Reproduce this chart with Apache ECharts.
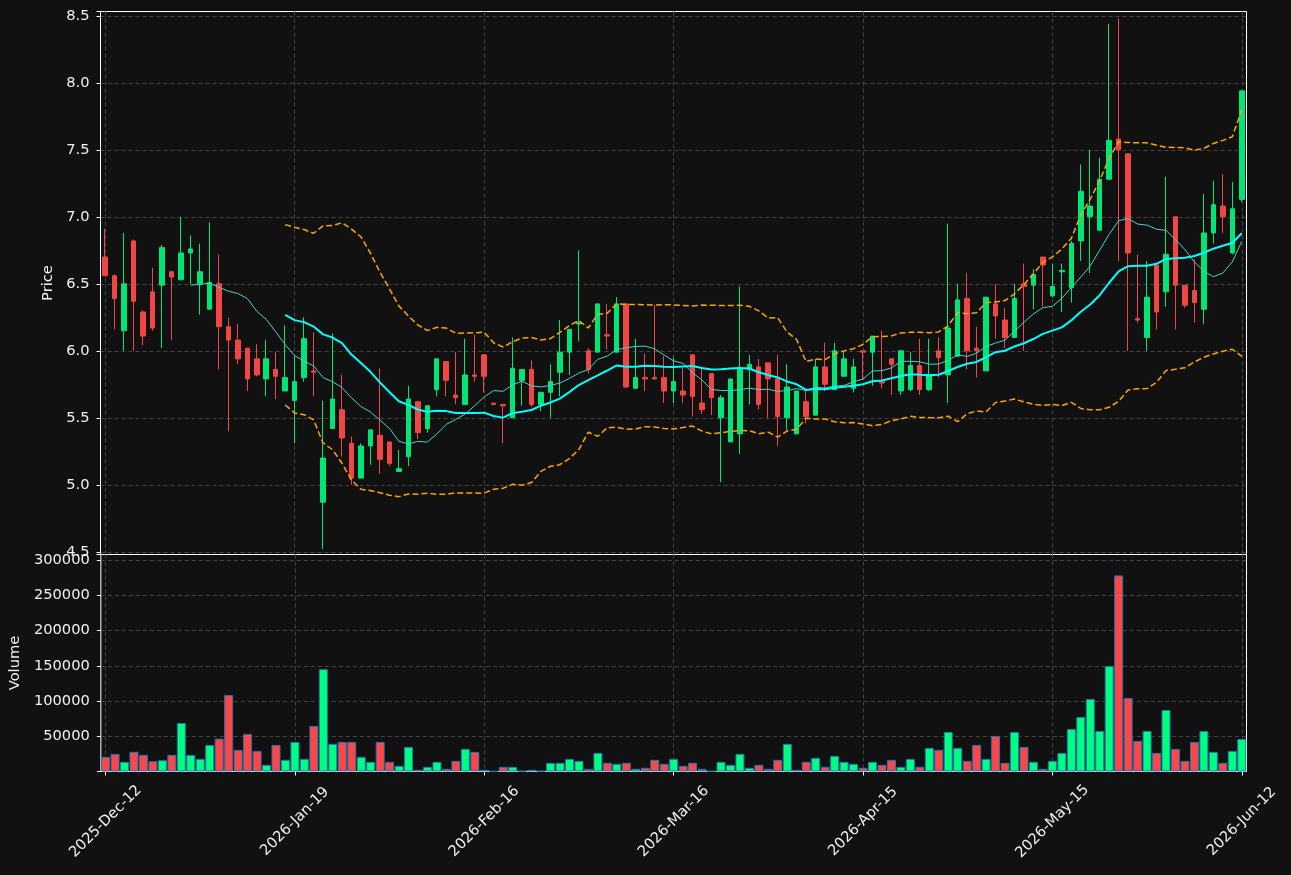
<!DOCTYPE html>
<html style="height: 100%">
<head>
    <meta charset="utf-8">
    <title>Price and Volume</title>
    <script src="https://cdn.jsdelivr.net/npm/echarts@6/dist/echarts.min.js"></script>
</head>
<body style="height: 100%; margin: 0; background: #111111">
<div id="main" style="width: 1291px; height: 875px"></div>

<script type="text/javascript">

    // dates shown on the axis, one every 20 sessions
    var tickDates = ['2025-12-12', '2026-01-19', '2026-02-16', '2026-03-16', '2026-04-15', '2026-05-15', '2026-06-12'];

    var opens = [6.70, 6.56, 6.15, 6.82, 6.29, 6.44, 6.49, 6.59, 6.53, 6.73,
        6.50, 6.31, 6.50, 6.18, 6.08, 6.02, 5.94, 5.79, 5.86, 5.70,
        5.63, 5.80, 5.85, 4.87, 5.42, 5.56, 5.31, 5.05, 5.29, 5.37,
        5.32, 5.10, 5.21, 5.62, 5.42, 5.71, 5.92, 5.67, 5.60, 5.82,
        5.97, 5.61, 5.60, 5.50, 5.78, 5.86, 5.60, 5.69, 5.84, 5.99,
        6.20, 6.00, 5.99, 6.12, 5.99, 6.35, 5.72, 5.80, 5.80, 5.80,
        5.70, 5.70, 5.97, 5.61, 5.83, 5.50, 5.32, 5.38, 5.86, 5.88,
        5.91, 5.79, 5.50, 5.38, 5.62, 5.52, 5.88, 5.71, 5.81, 5.72,
        6.00, 5.99, 5.77, 5.94, 5.70, 5.71, 5.89, 5.71, 6.00, 5.82,
        5.96, 6.39, 6.02, 5.85, 6.35, 6.23, 6.10, 6.50, 6.49, 6.70,
        6.41, 6.59, 6.47, 6.82, 7.00, 6.90, 7.28, 7.58, 7.47, 6.24,
        6.10, 6.64, 6.44, 7.00, 6.49, 6.45, 6.31, 6.88, 7.08, 6.73,
        7.13];

    var closes = [6.56, 6.39, 6.50, 6.37, 6.11, 6.17, 6.77, 6.55, 6.73, 6.76,
        6.59, 6.51, 6.18, 6.08, 5.94, 5.79, 5.82, 5.94, 5.81, 5.80,
        5.77, 6.09, 5.84, 5.20, 5.64, 5.35, 5.05, 5.29, 5.41, 5.19,
        5.16, 5.12, 5.64, 5.39, 5.59, 5.94, 5.78, 5.65, 5.82, 5.81,
        5.81, 5.60, 5.59, 5.87, 5.86, 5.60, 5.69, 5.77, 5.99, 6.16,
        6.21, 5.86, 6.35, 6.11, 6.35, 5.73, 5.80, 5.79, 5.79, 5.70,
        5.77, 5.67, 5.66, 5.56, 5.65, 5.65, 5.79, 5.86, 5.90, 5.60,
        5.79, 5.51, 5.73, 5.70, 5.51, 5.88, 5.75, 6.00, 5.94, 5.88,
        5.99, 6.11, 5.76, 5.90, 6.00, 5.89, 5.71, 5.82, 5.95, 6.17,
        6.38, 6.00, 6.00, 6.40, 6.26, 6.10, 6.39, 6.48, 6.57, 6.64,
        6.48, 6.60, 6.80, 7.19, 7.08, 7.28, 7.57, 7.50, 6.73, 6.23,
        6.40, 6.29, 6.72, 6.49, 6.34, 6.36, 6.88, 7.09, 7.00, 7.06,
        7.94];

    var lows = [6.56, 6.16, 6.00, 6.00, 6.04, 6.15, 6.02, 6.08, 6.53, 6.50,
        6.27, 6.31, 5.86, 5.40, 5.90, 5.70, 5.81, 5.66, 5.64, 5.70,
        5.31, 5.77, 5.66, 4.52, 5.42, 5.21, 5.00, 5.05, 5.15, 5.08,
        5.14, 5.10, 5.14, 5.34, 5.39, 5.66, 5.66, 5.60, 5.60, 5.77,
        5.69, 5.60, 5.31, 5.50, 5.59, 5.58, 5.55, 5.50, 5.66, 5.82,
        6.07, 5.83, 5.99, 6.01, 5.99, 5.72, 5.72, 5.70, 5.79, 5.61,
        5.61, 5.61, 5.51, 5.53, 5.52, 5.02, 5.32, 5.23, 5.60, 5.56,
        5.50, 5.29, 5.41, 5.38, 5.46, 5.52, 5.70, 5.71, 5.81, 5.69,
        5.78, 5.74, 5.72, 5.67, 5.67, 5.70, 5.67, 5.70, 5.80, 5.61,
        5.96, 5.86, 5.80, 5.85, 6.09, 6.02, 6.10, 6.00, 6.31, 6.33,
        6.40, 6.29, 6.36, 6.67, 6.58, 6.90, 7.28, 6.67, 6.00, 6.21,
        6.00, 6.16, 6.33, 6.16, 6.32, 6.21, 6.20, 6.80, 6.88, 6.72,
        7.11];

    var highs = [6.91, 6.57, 6.88, 6.83, 6.30, 6.62, 6.79, 6.59, 7.00, 6.86,
        6.80, 6.96, 6.72, 6.25, 6.20, 6.02, 6.05, 6.08, 5.99, 6.19,
        5.96, 6.25, 6.14, 5.63, 6.13, 5.82, 5.36, 5.31, 5.41, 5.87,
        5.32, 5.26, 5.74, 5.62, 5.59, 5.94, 5.92, 5.99, 6.09, 6.12,
        5.97, 5.61, 5.60, 6.10, 5.86, 5.93, 5.69, 5.90, 6.23, 6.16,
        6.75, 6.02, 6.35, 6.35, 6.40, 6.35, 6.09, 5.98, 6.34, 5.96,
        5.95, 5.87, 5.97, 5.87, 5.83, 5.67, 5.79, 6.48, 5.97, 5.94,
        5.91, 5.97, 5.90, 5.70, 5.70, 5.94, 6.06, 6.06, 6.00, 5.94,
        6.00, 6.11, 6.15, 5.94, 6.00, 5.99, 6.09, 6.09, 6.10, 6.95,
        6.50, 6.58, 6.18, 6.40, 6.50, 6.32, 6.50, 6.65, 6.61, 6.70,
        6.65, 6.65, 6.82, 7.39, 7.50, 7.44, 8.44, 8.48, 7.47, 6.72,
        6.67, 6.64, 7.30, 7.00, 6.49, 6.68, 7.17, 7.27, 7.32, 7.26,
        7.94];

    var volumes = [20800, 25000, 13700, 27800, 23600, 14600, 16000, 23600, 68900, 23600,
        17900, 37700, 46700, 108500, 30700, 53300, 29200, 9400, 37700, 16500,
        42000, 17900, 64600, 145300, 39200, 42000, 42000, 20800, 13700, 42000,
        13700, 8000, 34900, 2400, 6600, 13700, 3800, 15100, 32100, 27800,
        2400, 300, 6600, 6600, 900, 2400, 900, 12300, 12300, 17900,
        15100, 3800, 26400, 12300, 10900, 12300, 3800, 5200, 16500, 10900,
        17900, 8000, 12300, 3800, 700, 13700, 9400, 25000, 5200, 9400,
        3800, 16500, 39200, 2400, 13700, 19300, 6600, 22200, 13700, 10900,
        5200, 13700, 9400, 16500, 6600, 17900, 6600, 33500, 30700, 56100,
        33500, 15100, 37700, 17900, 50500, 12300, 56100, 34900, 13700, 3800,
        15100, 26400, 60400, 77400, 102800, 57600, 149500, 278300, 104300, 43400,
        57600, 26400, 87300, 32100, 15100, 42000, 57600, 27800, 12300, 29200,
        46200];

    var MONTHS = ['Jan', 'Feb', 'Mar', 'Apr', 'May', 'Jun', 'Jul', 'Aug', 'Sep', 'Oct', 'Nov', 'Dec'];

    function fmtDate(d) {
        var day = d.getUTCDate();
        return d.getUTCFullYear() + '-' + MONTHS[d.getUTCMonth()] + '-' + (day < 10 ? '0' + day : day);
    }

    // session dates: each tick date followed by the next 19 weekdays
    var dates = [];
    for (var k = 0; k < tickDates.length; k++) {
        var d = new Date(tickDates[k] + 'T00:00:00Z');
        dates.push(fmtDate(d));
        if (k === tickDates.length - 1) break;
        var n = 0;
        while (n < 19) {
            d = new Date(d.getTime() + 86400000);
            if (d.getUTCDay() !== 0 && d.getUTCDay() !== 6) {
                dates.push(fmtDate(d));
                n++;
            }
        }
    }

    function movingAverage(len) {
        var out = [];
        for (var i = 0; i < closes.length; i++) {
            if (i < len - 1) { out.push('-'); continue; }
            var sum = 0;
            for (var j = i - len + 1; j <= i; j++) sum += closes[j];
            out.push(+(sum / len).toFixed(4));
        }
        return out;
    }

    function bollinger(len, mult, sign) {
        var mid = movingAverage(len);
        var out = [];
        for (var i = 0; i < closes.length; i++) {
            if (i < len - 1) { out.push('-'); continue; }
            var s = 0;
            for (var j = i - len + 1; j <= i; j++) s += Math.pow(closes[j] - mid[i], 2);
            out.push(+(mid[i] + sign * mult * Math.sqrt(s / len)).toFixed(4));
        }
        return out;
    }

    var upColor = '#00E676', downColor = '#F04646';
    var volUp = '#00FF7F', volDown = '#FF4646';
    var textColor = '#F0F0F0';
    var fontPx = 14.67;
    var gridLine = {color: '#444444', width: 1, type: [4, 3]};

    var candles = [];
    var volumeItems = [];
    for (var i = 0; i < dates.length; i++) {
        candles.push([opens[i], closes[i], lows[i], highs[i]]);
        volumeItems.push({
            value: volumes[i],
            itemStyle: {color: closes[i] >= opens[i] ? volUp : volDown}
        });
    }

    var myChart = echarts.init(document.getElementById('main'));

    var option = {
        backgroundColor: '#111111',
        animation: false,
        textStyle: {fontFamily: 'DejaVu Sans'},
        grid: [
            {left: 100.5, width: 1146, top: 11.5, height: 543, show: true,
                backgroundColor: '#111111', borderColor: '#ffffff', borderWidth: 1},
            {left: 100.5, width: 1146, top: 554.5, height: 217, show: true,
                backgroundColor: '#111111', borderColor: '#ffffff', borderWidth: 1}
        ],
        xAxis: [
            {
                type: 'category', gridIndex: 0, data: dates, boundaryGap: true,
                axisLine: {show: false}, axisTick: {show: false}, axisLabel: {show: false},
                splitLine: {show: true, interval: 19, alignWithLabel: true, lineStyle: gridLine}
            },
            {
                type: 'category', gridIndex: 1, data: dates, boundaryGap: true,
                axisLine: {show: false},
                axisTick: {show: true, interval: 19, alignWithLabel: true, length: 4,
                    lineStyle: {color: '#ffffff'}},
                axisLabel: {interval: 19, rotate: 45, align: 'center', verticalAlign: 'middle',
                    margin: 50, color: textColor, fontSize: fontPx},
                splitLine: {show: true, interval: 19, alignWithLabel: true, lineStyle: gridLine}
            }
        ],
        yAxis: [
            {
                type: 'value', gridIndex: 0, min: 4.48, max: 8.532, splitNumber: 8,
                name: 'Price', nameLocation: 'middle', nameGap: 41,
                nameTextStyle: {color: textColor, fontSize: fontPx},
                axisLine: {show: false},
                axisTick: {show: true, length: 4, lineStyle: {color: '#ffffff'}},
                axisLabel: {
                    color: textColor, fontSize: fontPx, margin: 11,
                    formatter: function (v) {
                        return Math.abs(v * 2 - Math.round(v * 2)) < 1e-6 ? v.toFixed(1) : '';
                    }
                },
                splitLine: {show: true, showMinLine: false, showMaxLine: false, lineStyle: gridLine}
            },
            {
                type: 'value', gridIndex: 1, min: 0, max: 308000, interval: 50000,
                name: 'Volume', nameLocation: 'middle', nameGap: 75,
                nameTextStyle: {color: textColor, fontSize: fontPx},
                axisLine: {show: false},
                axisTick: {show: true, length: 4, lineStyle: {color: '#ffffff'}},
                axisLabel: {
                    color: textColor, fontSize: fontPx, margin: 11,
                    formatter: function (v) {
                        return (v > 0 && v <= 300000 && v % 50000 === 0) ? String(v) : '';
                    }
                },
                splitLine: {show: true, showMinLine: false, showMaxLine: false, lineStyle: gridLine}
            }
        ],
        series: [
            {
                name: 'Price', type: 'candlestick', xAxisIndex: 0, yAxisIndex: 0,
                data: candles, barWidth: 5,
                itemStyle: {color: upColor, color0: downColor, borderColor: upColor,
                    borderColor0: downColor, borderWidth: 1}
            },
            {
                name: 'MA10', type: 'line', xAxisIndex: 0, yAxisIndex: 0,
                data: movingAverage(10), showSymbol: false, silent: true,
                lineStyle: {color: '#48D1CC', width: 1}
            },
            {
                name: 'MA20', type: 'line', xAxisIndex: 0, yAxisIndex: 0,
                data: movingAverage(20), showSymbol: false, silent: true,
                lineStyle: {color: '#00FFFF', width: 2}
            },
            {
                name: 'BB upper', type: 'line', xAxisIndex: 0, yAxisIndex: 0,
                data: bollinger(20, 2, 1), showSymbol: false, silent: true,
                lineStyle: {color: '#FFA500', width: 1.5, type: [6, 3]}
            },
            {
                name: 'BB lower', type: 'line', xAxisIndex: 0, yAxisIndex: 0,
                data: bollinger(20, 2, -1), showSymbol: false, silent: true,
                lineStyle: {color: '#FFA500', width: 1.5, type: [6, 3]}
            },
            {
                name: 'Volume', type: 'bar', xAxisIndex: 1, yAxisIndex: 1,
                data: volumeItems, barCategoryGap: '5%',
                itemStyle: {borderColor: '#1F77B4', borderWidth: 1}
            }
        ]
    };
    myChart.setOption(option, true);

</script>
</body>
</html>
